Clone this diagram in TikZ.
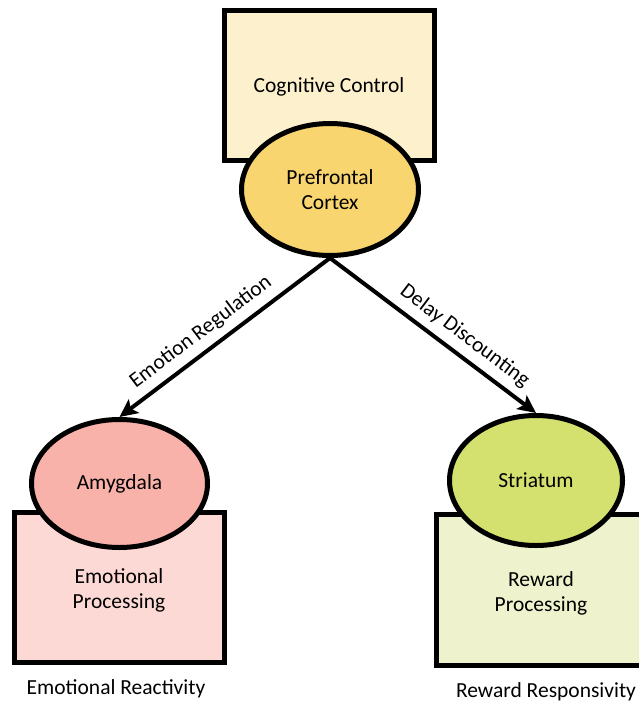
\documentclass[tikz,border=0pt]{standalone}
\usepackage{fontspec}
\setmainfont{Carlito}
\usetikzlibrary{shapes.geometric,arrows.meta}
\definecolor{ccfill}{HTML}{FDF0CD}
\definecolor{pfcfill}{HTML}{F9D570}
\definecolor{amyfill}{HTML}{F8B2AA}
\definecolor{epfill}{HTML}{FDD9D5}
\definecolor{strfill}{HTML}{D4E16E}
\definecolor{rpfill}{HTML}{EEF3CE}
\tikzset{
  boxnode/.style={draw=black, line width=5pt, rectangle, align=center},
  ellnode/.style={draw=black, line width=5pt, ellipse, align=center, font=\fontsize{21.5}{25}\selectfont},
  link/.style={line width=4pt, -{Stealth[length=18pt,width=17pt,inset=4pt]}},
  lbl/.style={font=\fontsize{21.5}{25}\selectfont},
}
\begin{document}
\begin{tikzpicture}[x=1pt,y=-1pt]
\useasboundingbox (0,0) rectangle (638,704);
% boxes
\node[boxnode, fill=ccfill, minimum width=210pt, minimum height=150pt] (cc) at (329.5,85.5) {};
\node[lbl] (cctext) at (329,87) {Cognitive Control};
\node[boxnode, fill=epfill, minimum width=210pt, minimum height=150pt] (ep) at (119.5,587.5) {};
\node[boxnode, fill=rpfill, minimum width=210pt, minimum height=151pt] (rp) at (541.5,590) {};
% ellipses
\node[ellnode, fill=pfcfill, minimum width=177pt, minimum height=132pt, inner sep=0pt] (pfc) at (330,189.5) {Prefrontal\\Cortex};
\node[ellnode, fill=amyfill, minimum width=176pt, minimum height=128pt, inner sep=0pt] (amy) at (119.5,483.5) {Amygdala};
\node[ellnode, fill=strfill, minimum width=173pt, minimum height=130pt, inner sep=0pt] (str) at (536,480.5) {Striatum};
% box texts
\node[lbl, align=center] (eptext) at (119,590) {Emotional\\Processing};
\node[lbl, align=center] (rptext) at (541,593) {Reward\\Processing};
% arrows
\draw[link] (pfc.south) -- node[lbl, pos=0.56, above=4pt, sloped] (er) {Emotion Regulation} (amy.north);
\draw[link] (pfc.south) -- node[lbl, pos=0.6, above=4pt, sloped] (dd) {Delay Discounting} (str.north);
% bottom labels
\node[lbl] (reac) at (116,689) {Emotional Reactivity};
\node[lbl] (resp) at (546,692) {Reward Responsivity};
\end{tikzpicture}
\end{document}
